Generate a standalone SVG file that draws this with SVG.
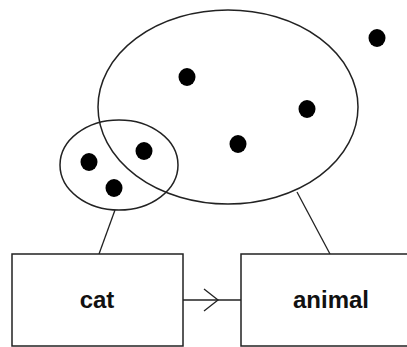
<svg xmlns="http://www.w3.org/2000/svg" width="407" height="347" viewBox="0 0 407 347">
<style>
.sh{fill:none;stroke:#222;stroke-width:1.5}
.box{fill:#fff;stroke:#222;stroke-width:1.5}
.dot{fill:#000}
.lbl{font-family:"Liberation Sans",Arial,sans-serif;font-weight:bold;font-size:24px;fill:#111;text-anchor:middle}
.ln{fill:none;stroke:#222;stroke-width:1.3}
</style>
<rect width="407" height="347" fill="#fff"/>
<g id="connectors">
<line class="ln" x1="115" y1="210" x2="99" y2="254"/>
<line class="ln" x1="297" y1="192" x2="330" y2="254"/>
<line class="ln" x1="183" y1="300" x2="241" y2="300"/>
<polyline class="ln" points="204,289 218,300 204,311"/>
</g>
<g id="set-animal">
<ellipse class="sh" cx="228" cy="107" rx="130" ry="97"/>
</g>
<g id="set-cat">
<ellipse class="sh" cx="119" cy="165" rx="59" ry="45"/>
</g>
<g id="dots">
<ellipse class="dot" cx="89" cy="162" rx="8.5" ry="9"/>
<ellipse class="dot" cx="144" cy="151" rx="8.5" ry="9"/>
<ellipse class="dot" cx="114" cy="188" rx="8.5" ry="9"/>
<ellipse class="dot" cx="187" cy="77" rx="8.5" ry="9"/>
<ellipse class="dot" cx="307" cy="109" rx="8.5" ry="9"/>
<ellipse class="dot" cx="238" cy="144" rx="8.5" ry="9"/>
<ellipse class="dot" cx="377" cy="38" rx="8.5" ry="9"/>
</g>
<g id="cat">
<rect class="box" x="12" y="254" width="171" height="92"/>
<text class="lbl" x="97" y="308">cat</text>
</g>
<g id="animal">
<rect class="box" x="241" y="254" width="172" height="92"/>
<text class="lbl" x="331" y="308">animal</text>
</g>
</svg>
